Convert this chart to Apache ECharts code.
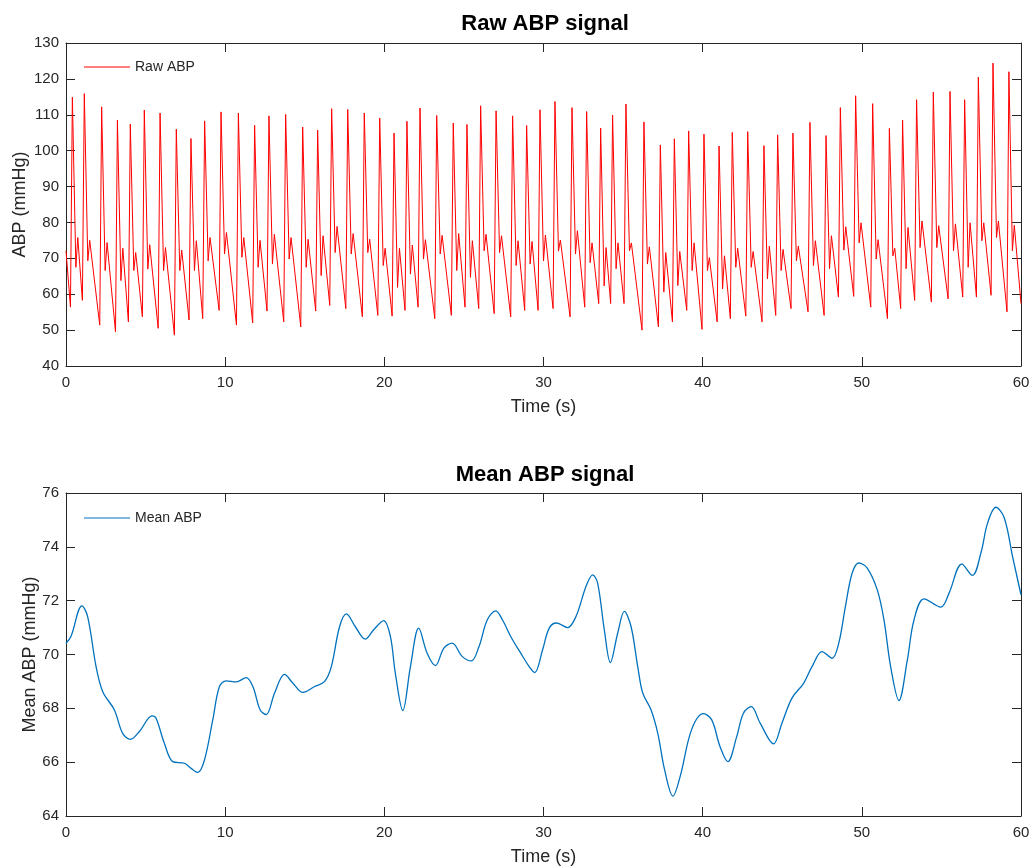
<!DOCTYPE html>
<html>
<head>
<meta charset="utf-8">
<script src="https://cdn.jsdelivr.net/npm/echarts@6/dist/echarts.min.js"></script>
<style>
html,body{margin:0;padding:0;background:#fff;}
#chart{width:1035px;height:868px;}
</style>
</head>
<body>
<div id="chart"></div>
<script>
// ---- Raw ABP: per-beat values ----
const rawStart = [0, 72.1];
const rawEnd = [60, 57.4];
const peakTime = [0.40,1.15,2.24,3.23,4.04,4.92,5.91,6.93,7.85,8.71,9.74,10.83,11.85,
  12.75,13.80,14.87,15.81,16.69,17.70,18.74,19.71,20.61,21.42,22.24,23.29,
  24.33,25.19,26.05,27.02,28.06,28.94,29.78,30.72,31.79,32.71,33.59,34.34,35.18,
  36.31,37.34,38.22,39.12,40.08,41.03,41.86,42.83,43.85,44.71,45.67,46.74,47.75,
  48.65,49.61,50.68,51.73,52.56,53.44,54.49,55.54,56.46,57.32,58.24,59.24];
const peakValue = [114.9,115.9,112.2,108.5,107.4,111.3,110.5,106.0,103.4,108.3,110.8,110.5,107.1,
  109.7,110.1,106.6,105.7,111.7,111.5,110.5,109.1,104.9,108.2,111.9,109.8,
  107.7,107.3,112.5,111.1,109.7,107.0,111.4,113.7,112.0,110.9,106.3,109.9,113.0,
  108.0,101.6,103.3,105.5,104.6,101.3,105.1,105.3,101.4,104.4,104.9,107.9,104.2,
  112.0,115.3,113.1,106.2,108.5,114.2,116.3,116.5,114.2,120.5,124.4,122.0];
const troughValue = [56.4,58.3,51.4,49.5,52.3,53.7,50.5,48.6,52.8,53.2,55.5,51.4,52.0,
  55.3,52.3,50.9,55.3,56.9,56.0,53.7,54.1,53.9,55.5,56.4,53.2,
  54.1,56.4,56.0,54.6,53.7,55.5,55.5,56.0,53.7,56.4,57.4,57.4,57.4,
  50.0,50.9,52.3,55.5,50.2,52.3,53.2,53.9,52.3,54.1,56.0,55.1,54.1,
  59.2,59.4,56.4,53.2,56.0,58.3,57.8,58.7,59.2,59.2,59.7,55.1];
const notchValue = [67.5,69.3,66.6,63.8,66.6,67.0,66.6,66.6,66.6,69.3,71.2,70.3,67.5,
  68.4,69.8,67.5,65.2,71.6,71.2,71.6,68.0,61.9,65.6,69.8,71.2,
  66.6,64.7,72.1,71.6,68.0,68.4,69.3,72.0,71.2,68.8,62.3,67.1,72.1,
  68.4,60.6,62.4,66.6,66.6,61.5,67.5,67.5,64.3,66.6,69.3,68.0,67.1,
  72.3,74.3,69.8,70.7,67.1,73.0,73.0,72.1,67.5,74.9,75.8,72.1];
const dicroticValue = [75.8,75.0,74.4,72.8,71.6,73.8,73.0,72.3,74.9,75.8,77.2,75.8,75.0,
  76.7,75.8,75.3,76.3,78.9,76.9,75.3,72.8,72.8,73.7,75.2,76.4,
  76.9,74.9,76.7,76.3,74.9,74.7,76.5,75.1,77.7,74.3,73.0,74.3,74.3,
  73.2,71.6,71.9,74.3,70.2,70.7,72.8,71.9,73.4,72.5,73.4,74.9,76.3,
  78.8,79.9,75.2,72.8,78.6,80.4,79.1,79.6,79.9,79.9,80.4,79.2];

// ---- Mean ABP: points ----
const meanTime = [0,0.31,1.0,1.36,1.89,2.31,3.04,3.56,4.05,4.61,5.41,5.66,6.18,6.71,7.44,7.86,8.28,8.70,9.22,9.64,
  10.06,10.69,11.32,11.74,12.20,12.58,13.10,13.73,14.26,14.88,15.62,16.25,16.67,17.19,17.62,18.17,18.80,19.33,19.96,
  20.38,20.69,21.16,21.64,22.16,22.69,23.21,23.74,24.26,24.89,25.46,25.95,26.47,27.0,27.42,27.94,28.57,29.10,29.45,29.94,
  30.36,30.82,31.51,32.04,32.67,33.09,33.40,33.82,34.20,34.66,35.08,35.50,35.92,36.24,36.76,37.18,37.61,38.13,38.6,39.3,
  40.05,40.57,41.09,41.58,42.14,42.56,43.05,43.61,44.45,44.98,45.61,46.34,46.87,47.50,48.13,48.55,48.97,49.39,49.81,
  50.34,50.97,51.39,51.81,52.33,52.86,53.28,53.91,54.96,55.48,56.28,56.95,57.48,57.90,58.42,58.95,59.47,60.0];
const meanValue = [70.42,70.67,71.81,71.41,69.55,68.62,67.94,67.07,66.85,67.14,67.72,67.63,66.70,66.02,65.96,65.77,65.62,66.08,67.57,68.81,
  69.02,68.98,69.14,68.81,67.94,67.77,68.56,69.26,68.93,68.59,68.81,69.0,69.55,71.04,71.51,71.04,70.57,70.92,71.26,
  70.67,69.31,67.92,69.55,70.98,70.05,69.59,70.24,70.42,69.93,69.76,70.30,71.29,71.62,71.29,70.67,70.05,69.55,69.33,70.17,
  70.98,71.17,71.0,71.41,72.53,72.96,72.65,70.92,69.70,70.79,71.60,71.04,69.55,68.56,67.94,67.07,65.71,64.74,65.5,67.2,
  67.8,67.57,66.58,66.02,66.95,67.82,68.06,67.45,66.68,67.45,68.38,68.93,69.55,70.11,69.86,70.42,71.79,73.02,73.40,
  73.21,72.40,71.29,69.55,68.29,69.80,71.29,72.07,71.76,72.28,73.36,72.94,73.77,74.88,75.47,75.07,73.64,72.22];

// axis tick settings
const xTicks = {min: 0, max: 60, interval: 10};
const rawY = {min: 40, max: 130, interval: 10};
const meanY = {min: 64, max: 76, interval: 2};

// ---- build series data ----
const UP = 0.12, NOTCH = 0.22, DIC = 0.34;
const rawData = [rawStart];
for (let i = 0; i < peakTime.length; i++) {
  rawData.push([peakTime[i] - UP, troughValue[i]]);
  rawData.push([peakTime[i], peakValue[i]]);
  rawData.push([peakTime[i] + NOTCH, notchValue[i]]);
  rawData.push([peakTime[i] + DIC, dicroticValue[i]]);
}
rawData.push(rawEnd);
const meanData = meanTime.map((t, i) => [t, meanValue[i]]);

const FONT = "'Liberation Sans', Arial, Helvetica, sans-serif";
const AX = '#262626';

function xAx(grid, pos, showLabel) {
  return {
    type: 'value', gridIndex: grid, position: pos, ...xTicks,
    name: showLabel ? 'Time (s)' : '', nameLocation: 'middle', nameGap: 32, nameMoveOverlap: false,
    nameTextStyle: {fontFamily: FONT, fontSize: 18, color: AX},
    axisLine: {show: true, onZero: false, lineStyle: {color: AX, width: 1}},
    axisTick: {show: true, inside: true, length: 9, lineStyle: {color: AX}},
    axisLabel: {show: showLabel, fontFamily: FONT, fontSize: 15, color: AX, margin: 9},
    splitLine: {show: false}
  };
}
function yAx(grid, pos, rng, label, gap) {
  return {
    type: 'value', gridIndex: grid, position: pos, ...rng,
    name: label || '', nameLocation: 'middle', nameGap: gap || 0, nameRotate: 90, nameMoveOverlap: false,
    nameTextStyle: {fontFamily: FONT, fontSize: 18, color: AX},
    axisLine: {show: true, onZero: false, lineStyle: {color: AX, width: 1}},
    axisTick: {show: true, inside: true, length: 9, lineStyle: {color: AX}},
    axisLabel: {show: !!label, fontFamily: FONT, fontSize: 15, color: AX, margin: 7},
    splitLine: {show: false}
  };
}

const chart = echarts.init(document.getElementById('chart'), null, {renderer: 'canvas'});
chart.setOption({
  backgroundColor: '#ffffff',
  animation: false,
  title: [
    {text: 'Raw ABP signal', left: 540, top: 8, textAlign: 'center',
     textStyle: {fontFamily: FONT, fontSize: 22, fontWeight: 'bold', color: '#000'}},
    {text: 'Mean ABP signal', left: 540, top: 459, textAlign: 'center',
     textStyle: {fontFamily: FONT, fontSize: 22, fontWeight: 'bold', color: '#000'}}
  ],
  legend: [
    {data: [{name: 'Raw ABP', icon: 'rect'}], left: 84, top: 60, itemWidth: 46, itemHeight: 1.2,
     padding: 0, selectedMode: false,
     textStyle: {fontFamily: FONT, fontSize: 14, color: AX}},
    {data: [{name: 'Mean ABP', icon: 'rect'}], left: 84, top: 511, itemWidth: 46, itemHeight: 1.2,
     padding: 0, selectedMode: false,
     textStyle: {fontFamily: FONT, fontSize: 14, color: AX}}
  ],
  grid: [
    {left: 66, top: 43, width: 955, height: 323, containLabel: false, outerBoundsMode: 'none'},
    {left: 66, top: 493, width: 955, height: 323, containLabel: false, outerBoundsMode: 'none'}
  ],
  xAxis: [xAx(0, 'bottom', true), xAx(0, 'top', false), xAx(1, 'bottom', true), xAx(1, 'top', false)],
  yAxis: [yAx(0, 'left', rawY, 'ABP (mmHg)', 37), yAx(0, 'right', rawY, null),
          yAx(1, 'left', meanY, 'Mean ABP (mmHg)', 27), yAx(1, 'right', meanY, null)],
  series: [
    {name: 'Raw ABP', type: 'line', xAxisIndex: 0, yAxisIndex: 0, data: rawData,
     showSymbol: false, symbol: 'none', smooth: false, color: '#ff0000',
     lineStyle: {color: '#ff0000', width: 1}},
    {name: 'Mean ABP', type: 'line', xAxisIndex: 2, yAxisIndex: 2, data: meanData,
     showSymbol: false, symbol: 'none', smooth: 0.35, color: '#0072bd',
     lineStyle: {color: '#0072bd', width: 1.3}}
  ]
});
</script>
</body>
</html>
